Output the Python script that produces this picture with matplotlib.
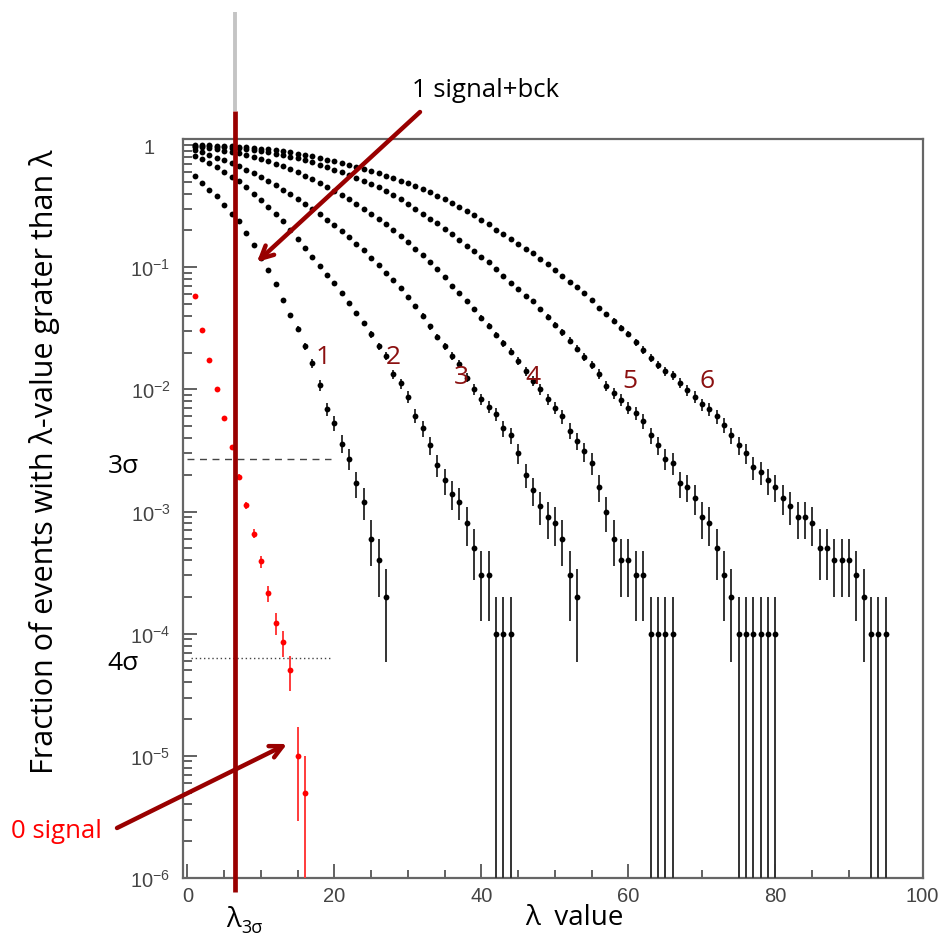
import numpy as np
import matplotlib
matplotlib.use("Agg")
import matplotlib.pyplot as plt
from matplotlib.ticker import FixedLocator, FixedFormatter, MultipleLocator, LogLocator, NullFormatter
import matplotlib.transforms as mtransforms

plt.rcParams['font.family'] = ['Open Sans', 'DejaVu Sans']
plt.rcParams['mathtext.fontset'] = 'custom'
plt.rcParams['mathtext.rm'] = 'Liberation Sans'
plt.rcParams['mathtext.it'] = 'Liberation Sans'

W, H = 952, 945

# fraction of toys with lambda above the value, per number of signal events
frac_0sig = [0.0578, 0.0305, 0.0173, 0.0100, 0.0058, 0.00335, 0.00193, 0.00113,
             0.00066, 0.00039, 0.000215, 0.000123, 0.000085, 0.00005, 0.00001, 0.000005]
n_toys_0sig = 2e5

frac_1sig = [0.56, 0.488, 0.43, 0.38, 0.32, 0.275, 0.237, 0.189, 0.151, 0.12,
             0.095, 0.0726, 0.054, 0.0404, 0.031, 0.0226, 0.0163, 0.0108, 0.0069, 0.0053,
             0.0036, 0.0027, 0.0017, 0.0012, 0.0006, 0.0004, 0.0002]
frac_2sig = [0.82, 0.77, 0.71, 0.656, 0.60, 0.55, 0.504, 0.45, 0.40, 0.352,
             0.312, 0.272, 0.237, 0.20, 0.17, 0.144, 0.122, 0.103, 0.087, 0.0739,
             0.0609, 0.0505, 0.0419, 0.0347, 0.0282, 0.0226, 0.0187, 0.0133, 0.0112, 0.0087,
             0.0061, 0.0048, 0.0035, 0.0024, 0.0018, 0.0014, 0.0012, 0.0008, 0.0005, 0.0003,
             0.0003, 0.0001, 0.0001, 0.0001]
frac_3sig = [0.91, 0.87, 0.83, 0.79, 0.75, 0.71, 0.67, 0.63, 0.59, 0.55,
             0.51, 0.47, 0.43, 0.395, 0.36, 0.33, 0.30, 0.27, 0.245, 0.22,
             0.197, 0.175, 0.155, 0.137, 0.12, 0.104, 0.09, 0.078, 0.067, 0.057,
             0.048, 0.040, 0.0327, 0.0268, 0.0226, 0.0187, 0.0161, 0.0125, 0.0100, 0.0083,
             0.0072, 0.0063, 0.0048, 0.0042, 0.0030, 0.0020, 0.0015, 0.0011, 0.0009, 0.0008,
             0.0006, 0.0003, 0.0002]
frac_4sig = [0.97, 0.955, 0.94, 0.92, 0.90, 0.88, 0.86, 0.83, 0.80, 0.77,
             0.74, 0.705, 0.67, 0.635, 0.60, 0.56, 0.525, 0.49, 0.455, 0.42,
             0.39, 0.36, 0.33, 0.30, 0.275, 0.25, 0.225, 0.20, 0.18, 0.16,
             0.142, 0.126, 0.111, 0.0963, 0.0833, 0.0703, 0.0609, 0.0529, 0.0452, 0.0387,
             0.033, 0.0280, 0.0239, 0.0204, 0.0171, 0.0141, 0.0117, 0.0100, 0.0083, 0.0071,
             0.0060, 0.0046, 0.0038, 0.0031, 0.0025, 0.0016, 0.0010, 0.0006, 0.0004, 0.0004,
             0.0003, 0.0003, 0.0001, 0.0001, 0.0001, 0.0001]
frac_5sig = [0.99, 0.985, 0.98, 0.972, 0.963, 0.953, 0.94, 0.925, 0.91, 0.89,
             0.87, 0.85, 0.83, 0.805, 0.78, 0.75, 0.72, 0.69, 0.66, 0.63,
             0.60, 0.57, 0.54, 0.51, 0.48, 0.45, 0.42, 0.39, 0.36, 0.33,
             0.30, 0.272, 0.247, 0.228, 0.205, 0.186, 0.1665, 0.1495, 0.136, 0.1214,
             0.1093, 0.0963, 0.0848, 0.0749, 0.066, 0.0582, 0.0529, 0.0452, 0.0394, 0.0337,
             0.0292, 0.0250, 0.0215, 0.0185, 0.0158, 0.0134, 0.0107, 0.0093, 0.0082, 0.0071,
             0.0064, 0.0055, 0.0042, 0.0035, 0.0027, 0.0025, 0.0017, 0.0016, 0.0013, 0.0009,
             0.0008, 0.0005, 0.0003, 0.0002, 0.0001, 0.0001, 0.0001, 0.0001, 0.0001, 0.0001]
frac_6sig = [0.998, 0.997, 0.994, 0.99, 0.985, 0.978, 0.97, 0.96, 0.948, 0.935,
             0.92, 0.905, 0.89, 0.87, 0.85, 0.83, 0.81, 0.785, 0.76, 0.735,
             0.71, 0.685, 0.66, 0.635, 0.61, 0.585, 0.56, 0.535, 0.51, 0.485,
             0.46, 0.436, 0.410, 0.384, 0.361, 0.333, 0.309, 0.286, 0.267, 0.244,
             0.225, 0.202, 0.186, 0.170, 0.156, 0.140, 0.1295, 0.1163, 0.1058, 0.0945,
             0.0848, 0.0763, 0.0682, 0.0609, 0.0536, 0.0461, 0.0412, 0.0363, 0.0320, 0.0286,
             0.0244, 0.0210, 0.0182, 0.0158, 0.0140, 0.0130, 0.01135, 0.00987, 0.0087, 0.00753,
             0.00686, 0.0060, 0.0051, 0.0042, 0.0035, 0.0030, 0.0023, 0.0021, 0.0018, 0.0016,
             0.0013, 0.0011, 0.0009, 0.0009, 0.0008, 0.0005, 0.0005, 0.0004, 0.0004, 0.0004,
             0.0003, 0.0002, 0.0001, 0.0001, 0.0001]
n_toys_sig = 1e4

lambda_3sigma = 6.5
p_3sigma = 2.7e-3
p_4sigma = 6.3e-5

signal_curves = [frac_1sig, frac_2sig, frac_3sig, frac_4sig, frac_5sig, frac_6sig]
curve_labels = ['1', '2', '3', '4', '5', '6']
label_pos = [(18.4, 0.0187), (28.0, 0.0187), (37.2, 0.0128), (47.0, 0.0128),
             (60.2, 0.0119), (70.7, 0.0119)]

dark_red = '#990000'

fig = plt.figure(figsize=(W / 100, H / 100), dpi=100)
ax = fig.add_axes([183 / W, 1 - 879 / H, (922.5 - 183) / W, (879 - 140) / H])


def draw_points(frac, n_toys, color, ecolor, ms):
    y = np.array(frac)
    x = np.arange(1, len(y) + 1)
    err = np.sqrt(y / n_toys)
    low = np.where(y - err <= 0, y - 1e-8, err)
    ax.errorbar(x, y, yerr=[low, err], fmt='o', ms=ms, color=color, mec=color,
                mew=0, ecolor=ecolor, elinewidth=1.4, capsize=0, zorder=3)


for frac in signal_curves:
    draw_points(frac, n_toys_sig, 'black', '#333333', 4.2)
draw_points(frac_0sig, n_toys_0sig, '#ff0000', '#ff3b3b', 4.2)

ax.set_yscale('log')
ax.set_xlim(-0.6, 100)
ax.set_ylim(1e-6, 1.12)

ax.xaxis.set_major_locator(MultipleLocator(20))
ax.xaxis.set_minor_locator(MultipleLocator(5))
ax.yaxis.set_major_locator(FixedLocator([1e-6, 1e-5, 1e-4, 1e-3, 1e-2, 1e-1, 1]))
ax.yaxis.set_major_formatter(FixedFormatter([r'$10^{-6}$', r'$10^{-5}$', r'$10^{-4}$',
                                             r'$10^{-3}$', r'$10^{-2}$', r'$10^{-1}$', '1']))
ax.yaxis.set_minor_locator(LogLocator(base=10, subs=np.arange(2, 10), numticks=20))
ax.yaxis.set_minor_formatter(NullFormatter())

ax.tick_params(axis='both', which='both', direction='in', color='#555555', width=1.3,
               top=False, right=False, labelcolor='#444444')
ax.tick_params(axis='x', which='major', length=10, pad=5.5, labelsize=14.5)
ax.tick_params(axis='x', which='minor', length=5.5)
ax.tick_params(axis='y', which='major', length=10, pad=9, labelsize=14.5)
ax.tick_params(axis='y', which='minor', length=6.5)
for lab in ax.get_xticklabels() + ax.get_yticklabels():
    lab.set_family('Liberation Sans')
# the plain "1" label sits further left, as in the original
one_tick = ax.yaxis.get_major_ticks()[6]
one_tick.label1.set_transform(one_tick.label1.get_transform()
                              + mtransforms.ScaledTranslation(-0.16, 0, fig.dpi_scale_trans))
for sp in ax.spines.values():
    sp.set_color('#666666')
    sp.set_linewidth(1.6)

# sigma reference lines
ax.plot([0, 19.5], [p_3sigma, p_3sigma], ls=(0, (5, 4)), color='#444444', lw=1.0, zorder=2)
ax.plot([0.5, 19.5], [p_4sigma, p_4sigma], ls=(0, (1, 2)), color='#444444', lw=1.0, zorder=2)

# lambda_3sigma vertical line, sticking out of the frame
trans = mtransforms.blended_transform_factory(ax.transData, ax.transAxes)
ax.plot([lambda_3sigma, lambda_3sigma], [-0.019, 1.038], color=dark_red, lw=3.4,
        transform=trans, clip_on=False, zorder=5, solid_capstyle='butt')
ax.plot([lambda_3sigma, lambda_3sigma], [1.038, 1.172], color='#c4c4c4', lw=2.8,
        transform=trans, clip_on=False, zorder=5, solid_capstyle='butt')

for txt, (lx, ly) in zip(curve_labels, label_pos):
    ax.text(lx, ly, txt, color='#8b1010', fontsize=19, ha='center', va='center', zorder=4)


def px(x, y):
    return (x, H - y)


arrow = dict(arrowstyle='->,head_length=0.9,head_width=0.45', color=dark_red, lw=3.2,
             shrinkA=0, shrinkB=0)
ax.annotate('', xy=px(257, 263), xytext=px(420, 113), xycoords='figure pixels',
            textcoords='figure pixels', arrowprops=arrow, zorder=6, annotation_clip=False)
ax.annotate('', xy=px(287, 745), xytext=px(117, 829), xycoords='figure pixels',
            textcoords='figure pixels', arrowprops=arrow, zorder=6, annotation_clip=False)

fig.text(486 / W, 1 - 97 / H, '1 signal+bck', fontsize=18.5, ha='center', va='baseline')
fig.text(56 / W, 1 - 838 / H, '0 signal', fontsize=18.5, ha='center', va='baseline',
         color='#ff0000')
fig.text(139 / W, 1 - 473 / H, '3σ', fontsize=19, ha='right', va='baseline')
fig.text(139 / W, 1 - 670 / H, '4σ', fontsize=19, ha='right', va='baseline')
fig.text(45 / W, 1 - 462 / H, 'Fraction of events with λ-value grater than λ', fontsize=22,
         rotation=90, ha='center', va='center')
fig.text(574 / W, 1 - 925 / H, 'λ  value', fontsize=20, ha='center', va='baseline')
fig.text(226 / W, 1 - 927 / H, 'λ', fontsize=19.5, ha='left', va='baseline')
fig.text(241 / W, 1 - 933 / H, '3σ', fontsize=13, ha='left', va='baseline')

fig.savefig('out.png', dpi=100)
